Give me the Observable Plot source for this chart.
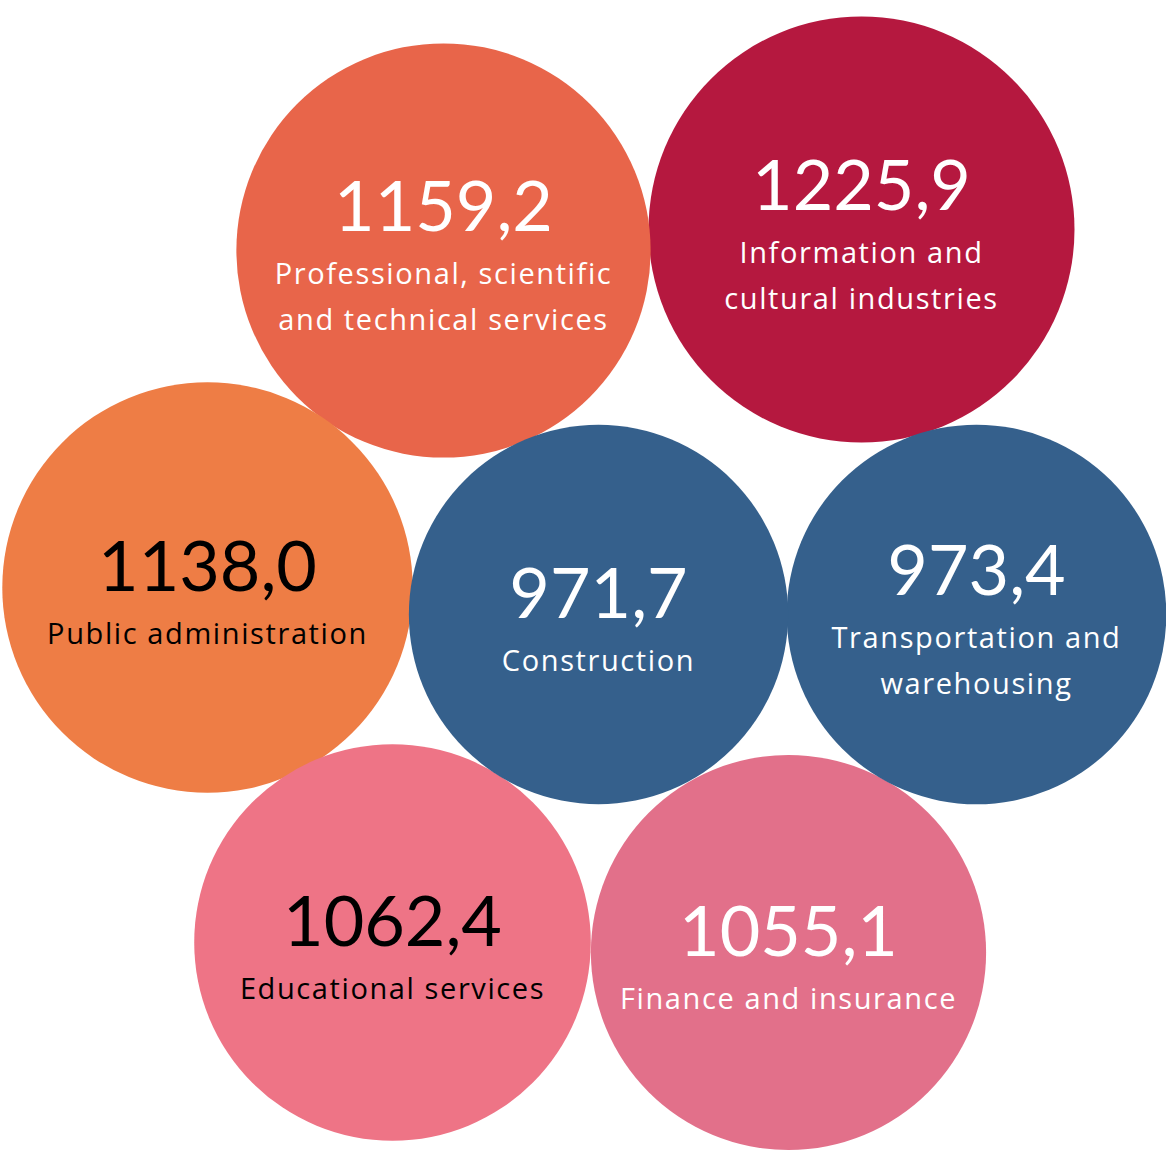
<!DOCTYPE html>
<html>
<head>
<meta charset="utf-8">
<script src="https://cdn.jsdelivr.net/npm/d3@7"></script>
<script src="https://cdn.jsdelivr.net/npm/@observablehq/plot@0.6"></script>
<style>
  html, body { margin: 0; padding: 0; background: #ffffff; }
  #chart { width: 1166px; height: 1166px; }
  svg { font-family: Lato, "Noto Sans", sans-serif; }
  .labels text { font-family: "Open Sans", "Noto Sans", sans-serif; letter-spacing: 1.6px; }
</style>
</head>
<body>
<div id="chart"></div>
<script>
// ---- data ----
const industries = [
  "Professional, scientific\nand technical services",
  "Information and\ncultural industries",
  "Public administration",
  "Construction",
  "Transportation and\nwarehousing",
  "Educational services",
  "Finance and insurance"
];
const values = [1159.2, 1225.9, 1138.0, 971.7, 973.4, 1062.4, 1055.1];
const valueLabels = ["1159,2", "1225,9", "1138,0", "971,7", "973,4", "1062,4", "1055,1"];

// ---- packed-bubble layout (centres, in pixels) ----
const bubbleX = [443, 861, 207, 598, 976, 392, 788];
const bubbleY = [250, 229, 587, 614, 614, 942, 952];

// ---- styles ----
const bubbleColors = ["#E8654A", "#B5183F", "#EE7D45", "#35608C", "#35608C", "#EE7486", "#E2708A"];
const textColors = ["#ffffff", "#ffffff", "#000000", "#ffffff", "#ffffff", "#000000", "#ffffff"];

const rows = industries.map((name, i) => ({
  name,
  value: values[i],
  label: valueLabels[i],
  cx: bubbleX[i],
  cy: bubbleY[i],
  lines: name.split("\n").length,
  fill: bubbleColors[i],
  ink: textColors[i]
}));

const W = 1166, H = 1166;

const chart = Plot.plot({
  width: W,
  height: H,
  margin: 0,
  x: {domain: [0, W], range: [0, W], axis: null},
  y: {domain: [0, H], range: [0, H], axis: null},
  r: {type: "sqrt", domain: [0, 1225.9], range: [0, 213]},
  marks: [
    Plot.dot(rows, {x: "cx", y: "cy", r: "value", fill: d => d.fill, stroke: null}),
    Plot.text(rows, {
      x: "cx",
      y: d => d.cy + (d.lines === 2 ? -20 : 3),
      text: "label",
      fill: d => d.ink,
      fontSize: 70,
      lineAnchor: "bottom",
      textAnchor: "middle"
    }),
    Plot.text(rows, {
      x: "cx",
      y: d => d.cy + (d.lines === 2 ? 79 : 56),
      text: "name",
      fill: d => d.ink,
      fontSize: 29,
      lineHeight: 46 / 29,
      lineAnchor: "bottom",
      textAnchor: "middle",
      className: "labels"
    })
  ]
});

document.getElementById("chart").appendChild(chart);
</script>
</body>
</html>
